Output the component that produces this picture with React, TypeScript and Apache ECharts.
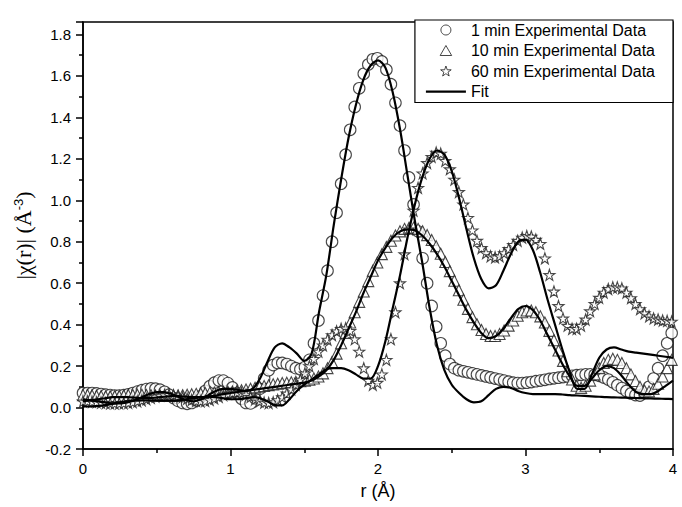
import React, { useEffect, useRef } from "react";
import * as echarts from "echarts";

// r grids (Å)
const R_STEP = 0.0307;
const FIT_STEP = 0.05;

const seriesNames = [
  "1 min Experimental Data",
  "10 min Experimental Data",
  "60 min Experimental Data",
  "Fit",
];

// |chi(r)| experimental data, sampled every R_STEP from r = 0
const oneMin = [
  0.07, 0.07, 0.07, 0.068, 0.065, 0.062, 0.06, 0.058, 0.058, 0.06,
  0.064, 0.07, 0.077, 0.084, 0.089, 0.092, 0.091, 0.086, 0.076, 0.062,
  0.046, 0.032, 0.022, 0.018, 0.022, 0.035, 0.055, 0.08, 0.103, 0.12,
  0.13, 0.13, 0.118, 0.097, 0.07, 0.042, 0.022, 0.02, 0.045, 0.09,
  0.14, 0.18, 0.205, 0.215, 0.215, 0.21, 0.2, 0.19, 0.185, 0.195,
  0.23, 0.31, 0.42, 0.54, 0.66, 0.8, 0.94, 1.08, 1.22, 1.34,
  1.45, 1.54, 1.61, 1.655, 1.68, 1.685, 1.67, 1.63, 1.56, 1.47,
  1.36, 1.24, 1.11, 0.98, 0.85, 0.72, 0.6, 0.49, 0.39, 0.31,
  0.25, 0.21, 0.19, 0.18, 0.175, 0.17, 0.165, 0.16, 0.155, 0.15,
  0.145, 0.14, 0.135, 0.13, 0.125, 0.12, 0.118, 0.118, 0.12, 0.123,
  0.127, 0.13, 0.134, 0.138, 0.141, 0.144, 0.147, 0.15, 0.153, 0.156,
  0.158, 0.16, 0.16, 0.158, 0.153, 0.145, 0.135, 0.122, 0.108, 0.094,
  0.08, 0.068, 0.06, 0.058, 0.07, 0.1, 0.14, 0.19, 0.25, 0.31,
  0.36,
];

const tenMin = [
  0.06, 0.06, 0.058, 0.056, 0.054, 0.053, 0.053, 0.054, 0.056, 0.058,
  0.06, 0.061, 0.062, 0.062, 0.061, 0.06, 0.058, 0.057, 0.056, 0.056,
  0.057, 0.058, 0.06, 0.062, 0.064, 0.066, 0.068, 0.07, 0.072, 0.073,
  0.074, 0.075, 0.076, 0.078, 0.08, 0.083, 0.087, 0.091, 0.096, 0.1,
  0.104, 0.108, 0.112, 0.115, 0.118, 0.12, 0.122, 0.124, 0.127, 0.13,
  0.134, 0.14, 0.15, 0.165, 0.19, 0.22, 0.26, 0.31, 0.36, 0.41,
  0.46, 0.51, 0.56, 0.61, 0.66, 0.7, 0.74, 0.775, 0.805, 0.83,
  0.85, 0.862, 0.868, 0.868, 0.862, 0.85, 0.832, 0.808, 0.778, 0.742,
  0.702, 0.658, 0.612, 0.566, 0.52, 0.476, 0.436, 0.402, 0.374, 0.355,
  0.345, 0.345, 0.355, 0.372, 0.395, 0.42, 0.443, 0.46, 0.468, 0.468,
  0.46, 0.44, 0.41, 0.37, 0.325, 0.275, 0.225, 0.175, 0.135, 0.105,
  0.095, 0.105, 0.13, 0.16, 0.19, 0.215, 0.23, 0.235, 0.23, 0.215,
  0.19, 0.16, 0.128, 0.1, 0.082, 0.078, 0.09, 0.115, 0.15, 0.19,
  0.23,
];

const sixtyMin = [
  0.03, 0.03, 0.028, 0.026, 0.024, 0.022, 0.02, 0.02, 0.02, 0.021,
  0.023, 0.026, 0.03, 0.035, 0.041, 0.047, 0.053, 0.058, 0.061, 0.062,
  0.06, 0.056, 0.05, 0.043, 0.037, 0.032, 0.03, 0.032, 0.037, 0.044,
  0.052, 0.06, 0.066, 0.07, 0.072, 0.07, 0.063, 0.052, 0.04, 0.03,
  0.024, 0.022, 0.026, 0.036, 0.05, 0.068, 0.088, 0.11, 0.135, 0.165,
  0.2, 0.235, 0.27, 0.3, 0.328, 0.35, 0.368, 0.38, 0.383, 0.37,
  0.33, 0.27, 0.19, 0.13, 0.11, 0.12, 0.16, 0.23, 0.33, 0.46,
  0.6, 0.74, 0.86, 0.95, 1.06, 1.13, 1.18, 1.21, 1.23, 1.225,
  1.19, 1.15, 1.1, 1.04, 0.98, 0.915, 0.855, 0.805, 0.77, 0.745,
  0.73, 0.725, 0.73, 0.745, 0.765, 0.785, 0.805, 0.82, 0.828, 0.825,
  0.81, 0.79, 0.72, 0.64, 0.56, 0.49, 0.43, 0.395, 0.38, 0.38,
  0.395, 0.425, 0.465, 0.5, 0.53, 0.555, 0.572, 0.58, 0.58, 0.575,
  0.555, 0.528, 0.5, 0.475, 0.455, 0.44, 0.43, 0.425, 0.42, 0.418,
  0.415,
];

// fits, sampled every FIT_STEP from r = 0 to 4
const fitOneMin = [
  0.04, 0.035, 0.03, 0.025, 0.02, 0.02, 0.025, 0.035, 0.05, 0.065,
  0.075, 0.075, 0.065, 0.05, 0.035, 0.03, 0.04, 0.06, 0.08, 0.09,
  0.09, 0.085, 0.08, 0.09, 0.14, 0.22, 0.29, 0.31, 0.29, 0.26,
  0.225, 0.26, 0.46, 0.64, 0.88, 1.1, 1.3, 1.46, 1.58, 1.65,
  1.675, 1.64, 1.52, 1.34, 1.12, 0.9, 0.7, 0.48, 0.3, 0.18,
  0.11, 0.07, 0.04, 0.025, 0.03, 0.06, 0.09, 0.1, 0.095, 0.08,
  0.07, 0.065, 0.065, 0.065, 0.065, 0.063, 0.06, 0.058, 0.056, 0.054,
  0.052, 0.05, 0.049, 0.048, 0.047, 0.046, 0.045, 0.044, 0.043, 0.042,
  0.041,
];

const fitTenMin = [
  0.03, 0.035, 0.04, 0.045, 0.05, 0.05, 0.05, 0.048, 0.045, 0.045,
  0.048, 0.052, 0.055, 0.055, 0.052, 0.05, 0.05, 0.053, 0.058, 0.065,
  0.07, 0.075, 0.08, 0.085, 0.09, 0.095, 0.1, 0.105, 0.11, 0.115,
  0.12, 0.13, 0.15, 0.18, 0.23, 0.3, 0.38, 0.46, 0.55, 0.63,
  0.71, 0.77, 0.82, 0.85, 0.86, 0.855, 0.83, 0.79, 0.74, 0.68,
  0.61, 0.54, 0.47, 0.41, 0.36, 0.335, 0.345, 0.38, 0.43, 0.475,
  0.49, 0.47, 0.42, 0.35, 0.28, 0.21, 0.15, 0.105, 0.105, 0.14,
  0.18, 0.2, 0.19, 0.155, 0.11, 0.075, 0.065, 0.065, 0.08, 0.105,
  0.13,
];

const fitSixtyMin = [
  0.005, 0.005, 0.008, 0.012, 0.018, 0.025, 0.03, 0.033, 0.035, 0.035,
  0.034, 0.033, 0.033, 0.035, 0.04, 0.045, 0.05, 0.052, 0.05, 0.045,
  0.04, 0.04, 0.045, 0.05, 0.045, 0.03, 0.012, 0.01, 0.04, 0.08,
  0.11, 0.135, 0.16, 0.185, 0.19, 0.19, 0.18, 0.16, 0.14, 0.14,
  0.2, 0.32, 0.48, 0.64, 0.82, 0.98, 1.11, 1.2, 1.24, 1.22,
  1.14, 1.01, 0.86, 0.72, 0.62, 0.575, 0.59, 0.66, 0.74, 0.8,
  0.81, 0.76, 0.65, 0.52, 0.4, 0.28, 0.17, 0.09, 0.09, 0.16,
  0.24, 0.28, 0.29, 0.28, 0.27, 0.265, 0.26, 0.255, 0.25, 0.245,
  0.24,
];

const STAR =
  "path://M50,2 L61.8,36.3 L97.6,36.3 L68.7,57.6 L79.4,92 L50,71 L20.6,92 L31.3,57.6 L2.4,36.3 L38.2,36.3 Z";
const TRIANGLE = "path://M50,0 L100,87 L0,87 Z";
const LEGEND_LINE = "path://M0,0 L160,0 L160,9 L0,9 Z";

const SANS = "'Liberation Sans', Arial, sans-serif";
const SERIF = "'Liberation Serif', 'Times New Roman', serif";

function toPoints(values: number[], step: number) {
  return values.map((v, i) => [Number((i * step).toFixed(4)), v]);
}

export default function App() {
  const ref = useRef<HTMLDivElement>(null);

  useEffect(() => {
    if (!ref.current) return;
    const chart = echarts.init(ref.current, null, { renderer: "svg" });

    const markerStyle = { color: "#fff", borderColor: "#1a1a1a", borderWidth: 1.1 };
    const scatter = (name: string, values: number[], symbol: string, size: number) => ({
      name,
      type: "scatter",
      data: toPoints(values, R_STEP),
      symbol,
      symbolSize: size,
      itemStyle: markerStyle,
      z: 2,
    });
    const fit = (values: number[]) => ({
      name: "Fit",
      type: "line",
      data: toPoints(values, FIT_STEP),
      symbol: "none",
      showSymbol: false,
      smooth: 0.3,
      lineStyle: { color: "#000", width: 2.2 },
      itemStyle: { color: "#000" },
      z: 5,
    });

    const axisCommon = {
      axisLine: { show: true, onZero: false, lineStyle: { color: "#000", width: 1.5 } },
      axisTick: { show: true, length: 7, lineStyle: { color: "#000", width: 1.5 } },
      minorTick: { show: true, splitNumber: 2, length: 4, lineStyle: { color: "#000", width: 1.5 } },
      splitLine: { show: false },
      minorSplitLine: { show: false },
    };

    const legendMarker = { color: "#fff", borderColor: "#1a1a1a", borderWidth: 1 };

    chart.setOption({
      animation: false,
      backgroundColor: "#fff",
      grid: {
        left: 83,
        right: 9,
        top: 22,
        bottom: 58,
        show: true,
        borderColor: "#000",
        borderWidth: 1.5,
      },
      legend: {
        orient: "vertical",
        right: 9,
        top: 20,
        symbolKeepAspect: true,
        data: [
          { name: seriesNames[0], icon: "circle", itemStyle: legendMarker },
          { name: seriesNames[1], icon: TRIANGLE, itemStyle: legendMarker },
          { name: seriesNames[2], icon: STAR, itemStyle: legendMarker },
          {
            name: seriesNames[3],
            icon: LEGEND_LINE,
            itemStyle: { color: "#000", borderWidth: 0 },
          },
        ],
        itemWidth: 40,
        itemHeight: 10,
        itemGap: 4.5,
        padding: [2, 18, 3, 11],
        borderColor: "#000",
        borderWidth: 1.2,
        backgroundColor: "#fff",
        selectedMode: false,
        textStyle: { fontSize: 16, fontFamily: SANS, color: "#000" },
      },
      xAxis: {
        type: "value",
        min: 0,
        max: 4,
        interval: 1,
        ...axisCommon,
        axisLabel: { fontSize: 15, fontFamily: SANS, color: "#000", margin: 12 },
        name: "r (Å)",
        nameLocation: "middle",
        nameGap: 33,
        nameTextStyle: { fontSize: 18, fontFamily: SANS, color: "#000" },
      },
      yAxis: {
        type: "value",
        min: -0.2,
        max: 1.86,
        interval: 0.2,
        ...axisCommon,
        axisLabel: {
          fontSize: 15,
          fontFamily: SANS,
          color: "#000",
          margin: 12,
          showMaxLabel: false,
          formatter: (v: number) => v.toFixed(1),
        },
        name: "{a||χ(r)| (Å}{s|-3}{a|)}",
        nameLocation: "middle",
        nameGap: 42,
        nameTextStyle: {
          rich: {
            a: { fontSize: 22, fontFamily: SERIF, color: "#000" },
            s: { fontSize: 13, fontFamily: SANS, color: "#000", verticalAlign: "top" },
          },
        },
      },
      series: [
        scatter(seriesNames[0], oneMin, "circle", 11.5),
        scatter(seriesNames[1], tenMin, TRIANGLE, 11),
        scatter(seriesNames[2], sixtyMin, STAR, 11),
        fit(fitOneMin),
        fit(fitTenMin),
        fit(fitSixtyMin),
      ],
    });

    return () => chart.dispose();
  }, []);

  return (
    <div
      ref={ref}
      style={{ position: "fixed", left: 0, top: 0, width: 682, height: 507 }}
    />
  );
}
